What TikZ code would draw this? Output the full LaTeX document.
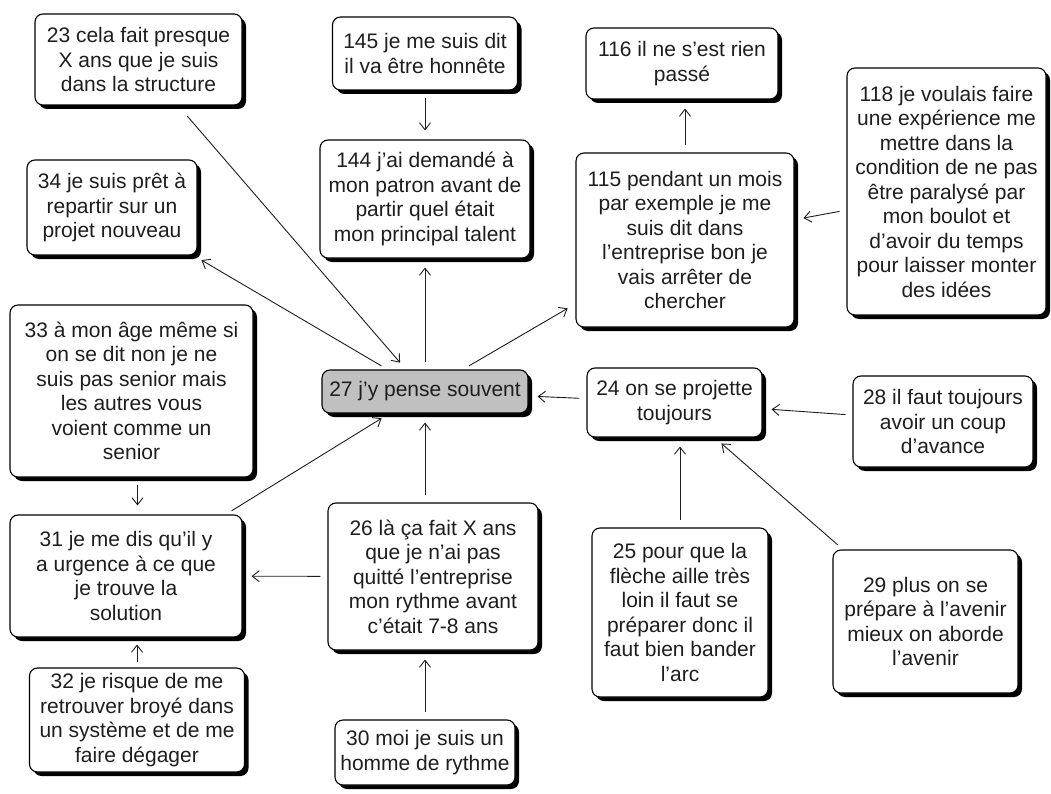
\documentclass[tikz,border=0pt]{standalone}
\usepackage{fontspec}
\setmainfont{Liberation Sans}
\usetikzlibrary{shadows,arrows.meta}
\definecolor{boxgray}{RGB}{192,192,192}
\definecolor{txt}{RGB}{30,30,30}
\tikzset{
  box/.style={draw=black, line width=1.1pt, rounded corners=8pt, fill=white,
    align=center, text=txt, font=\fontsize{21}{24.5}\selectfont, inner sep=2pt,
    drop shadow={shadow xshift=4pt, shadow yshift=-4pt, fill=black, opacity=1}},
  arr/.style={line width=0.9pt, draw=txt, -{Straight Barb[length=7pt,width=11pt]},
    shorten <=7pt, shorten >=9pt}
}
\begin{document}
\begin{tikzpicture}[x=1pt,y=1pt]
\useasboundingbox (0,0) rectangle (1051,-794);
\fill[white] (0,0) rectangle (1051,-794);

\node[box, minimum width=207pt, minimum height=91pt] (b23) at (138.5,-59.5)
  {23 cela fait presque\\X ans que je suis\\dans la structure};
\node[box, minimum width=185pt, minimum height=73pt] (b145) at (425,-53.5)
  {145 je me suis dit\\il va être honnête};
\node[box, minimum width=192pt, minimum height=71pt] (b116) at (682,-63.5)
  {116 il ne s’est rien\\passé};
\node[box, minimum width=199pt, minimum height=247pt] (b118) at (946.5,-191.5)
  {118 je voulais faire\\une expérience me\\mettre dans la\\condition de ne pas\\être paralysé par\\mon boulot et\\d’avoir du temps\\pour laisser monter\\des idées};
\node[box, minimum width=218pt, minimum height=174pt] (b115) at (685,-240)
  {115 pendant un mois\\par exemple je me\\suis dit dans\\l’entreprise bon je\\vais arrêter de\\chercher};
\node[box, minimum width=210pt, minimum height=118pt] (b144) at (425,-199)
  {144 j’ai demandé à\\mon patron avant de\\partir quel était\\mon principal talent};
\node[box, minimum width=170pt, minimum height=95pt] (b34) at (112,-207.5)
  {34 je suis prêt à\\repartir sur un\\projet nouveau};
\node[box, minimum width=243pt, minimum height=172pt] (b33) at (131.5,-391)
  {33 à mon âge même si\\on se dit non je ne\\suis pas senior mais\\les autres vous\\voient comme un\\senior};
\node[box, fill=boxgray, minimum width=206pt, minimum height=43pt] (b27) at (425,-391.5)
  {27 j’y pense souvent};
\node[box, minimum width=175pt, minimum height=69pt] (b24) at (674.5,-402.5)
  {24 on se projette\\toujours};
\node[box, minimum width=180pt, minimum height=91pt] (b28) at (943,-421.5)
  {28 il faut toujours\\avoir un coup\\d’avance};
\node[box, minimum width=232pt, minimum height=122pt] (b31) at (126,-576)
  {31 je me dis qu’il y\\a urgence à ce que\\je trouve la\\solution};
\node[box, minimum width=210pt, minimum height=147pt] (b26) at (433,-576.5)
  {26 là ça fait X ans\\que je n’ai pas\\quitté l’entreprise\\mon rythme avant\\c’était 7-8 ans};
\node[box, minimum width=176pt, minimum height=169pt] (b25) at (680,-612.5)
  {25 pour que la\\flèche aille très\\loin il faut se\\préparer donc il\\faut bien bander\\l’arc};
\node[box, minimum width=185pt, minimum height=143pt] (b29) at (925.5,-621.5)
  {29 plus on se\\prépare à l’avenir\\mieux on aborde\\l’avenir};
\node[box, minimum width=215pt, minimum height=104pt] (b32) at (137,-720)
  {32 je risque de me\\retrouver broyé dans\\un système et de me\\faire dégager};
\node[box, minimum width=180pt, minimum height=65pt] (b30) at (425,-752.5)
  {30 moi je suis un\\homme de rythme};

\draw[arr, shorten <=14pt] (b23) -- (b27);
\draw[arr] (b27) -- (b34);
\draw[arr] (b27) -- (b144);
\draw[arr] (b145) -- (b144);
\draw[arr] (b27) -- (b115);
\draw[arr] (b115.north) -- (b115.north |- b116.south);
\draw[arr] (b118) -- (b115);
\draw[arr] (b24) -- (b27);
\draw[arr] (b28) -- (b24);
\draw[arr] (b25.north) -- (b25.north |- b24.south);
\draw[arr] (b29) -- (b24);
\draw[arr] ([xshift=6pt]b33.south) -- ([xshift=6pt]b33.south |- b31.north);
\draw[arr] (b31) -- (b27);
\draw[arr] (b26.north -| b27) -- (b27.south);
\draw[arr] (b26) -- (b31);
\draw[arr] (b30.north) -- (b30.north |- b26.south);
\draw[arr, shorten <=5pt, shorten >=7pt] (b32.north) -- (b32.north |- b31.south);
\end{tikzpicture}
\end{document}
